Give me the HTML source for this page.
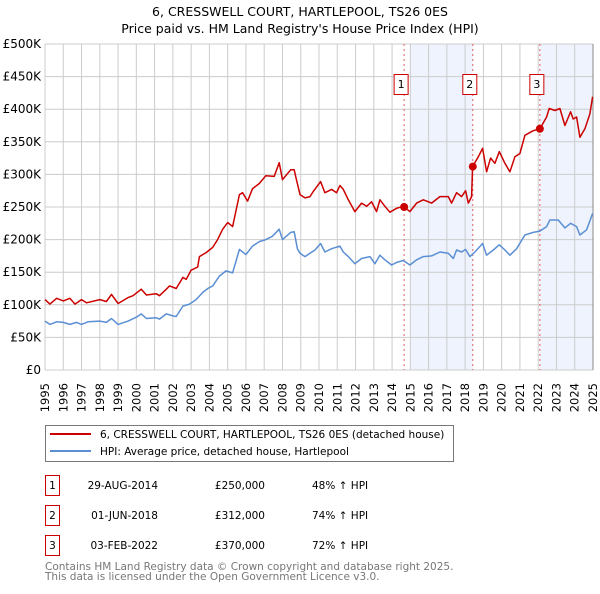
<!DOCTYPE html>
<html><head><meta charset="utf-8"><style>
body{margin:0;background:#fff;font-family:"DejaVu Sans","Liberation Sans",sans-serif;}
svg text{font-family:"DejaVu Sans","Liberation Sans",sans-serif;}
</style></head><body>
<svg id="chart" width="600" height="590" xmlns="http://www.w3.org/2000/svg">
<text x="300" y="16" text-anchor="middle" font-size="12.5">6, CRESSWELL COURT, HARTLEPOOL, TS26 0ES</text>
<text x="300" y="33" text-anchor="middle" font-size="12.5">Price paid vs. HM Land Registry's House Price Index (HPI)</text>
<g id="plot"></g>
<g>
<rect x="45.5" y="425.5" width="408" height="36" fill="#fff" stroke="#777"/>
<line x1="50" y1="434" x2="91" y2="434" stroke="#cc0000" stroke-width="2"/>
<text x="100" y="438" font-size="10.5">6, CRESSWELL COURT, HARTLEPOOL, TS26 0ES (detached house)</text>
<line x1="50" y1="451" x2="91" y2="451" stroke="#5b8fd4" stroke-width="2"/>
<text x="100" y="455" font-size="10.5">HPI: Average price, detached house, Hartlepool</text>
</g>
<g font-size="10.5">
<rect x="45.5" y="475.5" width="14" height="20" fill="#fff" stroke="#cc0000"/>
<text x="52.5" y="489" text-anchor="middle">1</text>
<text x="158" y="489" text-anchor="end">29-AUG-2014</text>
<text x="265" y="489" text-anchor="end">£250,000</text>
<text x="312" y="489">48% ↑ HPI</text>
<rect x="45.5" y="505.5" width="14" height="20" fill="#fff" stroke="#cc0000"/>
<text x="52.5" y="519" text-anchor="middle">2</text>
<text x="158" y="519" text-anchor="end">01-JUN-2018</text>
<text x="265" y="519" text-anchor="end">£312,000</text>
<text x="312" y="519">74% ↑ HPI</text>
<rect x="45.5" y="535.5" width="14" height="20" fill="#fff" stroke="#cc0000"/>
<text x="52.5" y="549" text-anchor="middle">3</text>
<text x="158" y="549" text-anchor="end">03-FEB-2022</text>
<text x="265" y="549" text-anchor="end">£370,000</text>
<text x="312" y="549">72% ↑ HPI</text>
</g>
<text x="45" y="570" font-size="10.5" fill="#777">Contains HM Land Registry data © Crown copyright and database right 2025.</text>
<text x="45" y="580" font-size="10.5" fill="#777">This data is licensed under the Open Government Licence v3.0.</text>
</svg>
<script>
const redYears=[1995.0,1995.27,1995.64,1996.0,1996.36,1996.64,1997.0,1997.27,1998.0,1998.36,1998.64,1999.0,1999.55,1999.82,2000.27,2000.55,2001.09,2001.27,2001.64,2001.82,2002.18,2002.55,2002.73,2003.0,2003.36,2003.45,2003.82,2004.18,2004.45,2004.73,2005.0,2005.27,2005.64,2005.82,2006.09,2006.36,2006.73,2007.09,2007.55,2007.82,2008.0,2008.45,2008.64,2008.73,2008.96];
const redVals=[108,101,110,106,110,101,108,103,108,105,116,102,111,114,124,115,117,114,124,129,125,142,139,153,158,174,180,188,200,216,226,220,269,272,259,278,286,298,297,318,292,307,307,296,269];
const redPx2=[15,30,40,62,75,95,110,120,130,145,165,185,200,215,230,240,255,270,290,310,330,350,370,395,420,445,455,470,485,497,505,515,518,535,548,560,572,585,598,615,630,645,660,675,700,720,740,748,765,780,795,812,820,830,840,855,870,878];
const redVals2=[264,266,274,289,272,277,272,283,277,261,243,256,251,258,243,261,251,242,248,251,243,256,261,256,266,266,256,272,266,275,256,266,312,327,340,304,325,317,335,317,304,327,332,360,367,370,388,401,398,401,375,396,385,388,357,370,393,419];
const hpiYears=[1995.0,1995.27,1995.64,1996.0,1996.36,1996.73,1997.0,1997.36,1998.0,1998.36,1998.64,1999.0,1999.55,2000.0,2000.27,2000.55,2001.09,2001.27,2001.64,2002.0,2002.18,2002.55,2002.91,2003.27,2003.64,2003.91,2004.18,2004.55,2004.91,2005.27,2005.64,2006.0,2006.36,2006.73,2007.09,2007.45,2007.82,2008.0,2008.45,2008.64,2008.82];
const hpiVals=[75,70,74,73,70,73,70,74,75,73,79,70,75,81,86,79,80,78,86,83,82,98,101,108,119,125,129,144,152,149,185,177,190,197,200,205,216,200,211,212,186];
const hpiPx2=[0,15,30,45,62,75,95,120,130,145,165,185,210,225,240,255,275,290,310,330,350,370,395,420,445,460,470,485,497,510,525,548,560,580,598,615,630,650,675,700,720,740,750,775,795,812,830,840,860,878];
const hpiVals2=[179,174,179,184,194,181,186,190,181,174,163,171,174,163,176,169,161,165,168,161,169,174,175,181,179,171,184,181,185,174,181,194,176,184,192,184,176,186,207,211,213,220,230,230,218,225,220,207,215,240];
const saleYears=[2014.66,2018.42,2022.09];
const saleVals=[250,312,370];
const saleLabels=["1","2","3"];
const yTicks=[0,50,100,150,200,250,300,350,400,450,500];
const yTickLabels=["£0","£50K","£100K","£150K","£200K","£250K","£300K","£350K","£400K","£450K","£500K"];
const xTicks=[1995,1996,1997,1998,1999,2000,2001,2002,2003,2004,2005,2006,2007,2008,2009,2010,2011,2012,2013,2014,2015,2016,2017,2018,2019,2020,2021,2022,2023,2024,2025];

const L=45,R=593,T=44,B=370;
const X=y=>L+(y-1995)/30*(R-L);
const Y=v=>B-v/500*(B-T);
const yrFromPx2=p=>1995+(300+p/3-45)/18.27;
const NS="http://www.w3.org/2000/svg";
const g=document.getElementById('plot');
function mk(tag,attrs,parent){const e=document.createElementNS(NS,tag);for(const k in attrs)e.setAttribute(k,attrs[k]);(parent||g).appendChild(e);return e;}

let e=mk('rect',{x:X(2015.0),y:T,width:X(saleYears[1])-X(2015.0),height:B-T,fill:'#eef3fd'});


e=mk('rect',{x:X(saleYears[2]),y:T,width:R-X(saleYears[2]),height:B-T,fill:'#eef3fd'});



yTicks.forEach((v,i)=>{
  let l=mk('line',{x1:L,x2:R,y1:Y(v),y2:Y(v),stroke:'#cccccc','stroke-width':1});
  
  
  let t=mk('text',{x:L-4,y:Y(v)+4,'text-anchor':'end','font-size':'12'});
  t.textContent=yTickLabels[i];
  
  
});
xTicks.forEach(yr=>{
  let l=mk('line',{x1:X(yr),x2:X(yr),y1:T,y2:B,stroke:'#cccccc','stroke-width':1});
  
  
  let t=mk('text',{x:0,y:0,'text-anchor':'end','font-size':'11.5',transform:`translate(${X(yr)+4},383) rotate(-90)`});
  t.textContent=String(yr);
  
  
});
e=mk('line',{x1:R,x2:R,y1:T,y2:B,stroke:'#888','stroke-width':1});



saleYears.forEach((yr,i)=>{
  let l=mk('line',{x1:X(yr),x2:X(yr),y1:T,y2:B,stroke:'#e06060','stroke-width':1,'stroke-dasharray':'2,3'});
  
  
});

function pts(xs,vs){return xs.map((x,i)=>X(x).toFixed(1)+','+Y(vs[i]).toFixed(1)).join(' ');}
const hx=hpiYears.concat(hpiPx2.map(yrFromPx2)), hv=hpiVals.concat(hpiVals2);
const rx=redYears.concat(redPx2.map(yrFromPx2)), rv=redVals.concat(redVals2);
e=mk('polyline',{points:pts(hx,hv),fill:'none',stroke:'#5b8fd4','stroke-width':1.5,'stroke-linejoin':'round'});


e=mk('polyline',{points:pts(rx,rv),fill:'none',stroke:'#cc0000','stroke-width':1.5,'stroke-linejoin':'round'});



saleYears.forEach((yr,i)=>{
  let c=mk('circle',{cx:X(yr),cy:Y(saleVals[i]),r:4,fill:'#cc0000'});
  
  
  let bx=X(yr)-10;
  let r=mk('rect',{x:bx,y:74.5,width:14,height:20,fill:'#fff',stroke:'#cc0000'});
  
  
  let t=mk('text',{x:bx+7,y:88,'text-anchor':'middle','font-size':'11'});
  t.textContent=saleLabels[i];
  
  
});
</script>
</body></html>
